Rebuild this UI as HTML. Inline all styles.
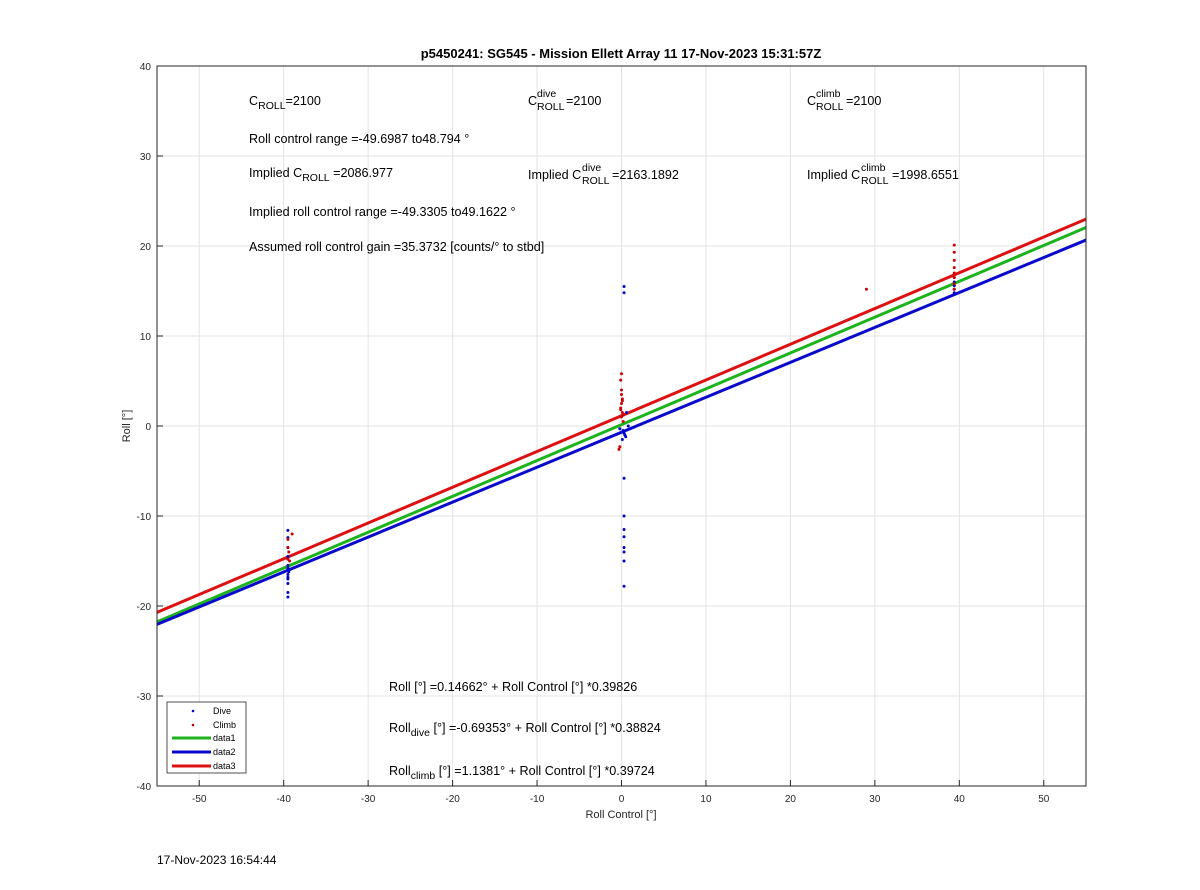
<!DOCTYPE html>
<html><head><meta charset="utf-8"><style>
body{margin:0;background:#fff;font-family:"Liberation Sans",Arial,sans-serif}
svg text{font-family:"Liberation Sans",Arial,sans-serif}
</style></head><body>
<svg id="chart" width="1200" height="885" xmlns="http://www.w3.org/2000/svg">
<rect width="1200" height="885" fill="#fff"/>
<g id="grid"></g>
<g id="marks"></g>
<rect x="157" y="66" width="929" height="720" fill="none" stroke="#262626" stroke-width="1"/>
<g id="ticks" font-size="10" fill="#262626"></g>
<text x="621" y="58" text-anchor="middle" font-size="13" font-weight="bold" fill="#000">p5450241: SG545 - Mission Ellett Array 11 17-Nov-2023 15:31:57Z</text>
<text x="621" y="818" text-anchor="middle" font-size="11" fill="#262626">Roll Control [°]</text>
<text transform="translate(130,426) rotate(-90)" text-anchor="middle" font-size="11" fill="#262626">Roll [°]</text>
<text x="157" y="864" font-size="12" fill="#000">17-Nov-2023 16:54:44</text>
<g font-size="12.6" fill="#000">
<text x="249" y="105">C<tspan font-size="10.5" dy="4">ROLL</tspan><tspan dy="-4">=2100</tspan></text>
<text x="528" y="105">C</text><text x="537" y="97" font-size="10.5">dive</text><text x="537" y="110" font-size="10.5">ROLL</text><text x="566" y="105">=2100</text>
<text x="807" y="105">C</text><text x="816" y="97" font-size="10.5">climb</text><text x="816" y="110" font-size="10.5">ROLL</text><text x="846" y="105">=2100</text>
<text x="249" y="143">Roll control range =-49.6987 to48.794 °</text>
<text x="249" y="177">Implied C<tspan font-size="10.5" dy="4">ROLL</tspan><tspan dy="-4"> =2086.977</tspan></text>
<text x="528" y="179">Implied C</text><text x="582" y="171" font-size="10.5">dive</text><text x="582" y="184" font-size="10.5">ROLL</text><text x="612" y="179">=2163.1892</text>
<text x="807" y="179">Implied C</text><text x="861" y="171" font-size="10.5">climb</text><text x="861" y="184" font-size="10.5">ROLL</text><text x="892" y="179">=1998.6551</text>
<text x="249" y="216">Implied roll control range =-49.3305 to49.1622 °</text>
<text x="249" y="251">Assumed roll control gain =35.3732 [counts/° to stbd]</text>
<text x="389" y="691">Roll [°] =0.14662° + Roll Control [°] *0.39826</text>
<text x="389" y="732">Roll<tspan font-size="10.5" dy="4">dive</tspan><tspan dy="-4"> [°] =-0.69353° + Roll Control [°] *0.38824</tspan></text>
<text x="389" y="775">Roll<tspan font-size="10.5" dy="4">climb</tspan><tspan dy="-4"> [°] =1.1381° + Roll Control [°] *0.39724</tspan></text>
</g>
<g>
<rect x="167" y="702" width="79" height="71" fill="#fff" stroke="#262626" stroke-width="0.8"/>
<circle cx="193" cy="711" r="1.3" fill="#0000cc"/><text x="213" y="714" font-size="9">Dive</text>
<circle cx="193" cy="725" r="1.3" fill="#cc0000"/><text x="213" y="728" font-size="9">Climb</text>
<line x1="172" x2="211" y1="738" y2="738" stroke="#1db31d" stroke-width="3"/><text x="213" y="741" font-size="9">data1</text>
<line x1="172" x2="211" y1="752" y2="752" stroke="#0a0acc" stroke-width="3"/><text x="213" y="755" font-size="9">data2</text>
<line x1="172" x2="211" y1="766" y2="766" stroke="#dd1111" stroke-width="3"/><text x="213" y="769" font-size="9">data3</text>
</g>
</svg>
<script>
const xTicks=[-50,-40,-30,-20,-10,0,10,20,30,40,50];
const yTicks=[-40,-30,-20,-10,0,10,20,30,40];
const diveX=[-39.5,-39.5,-39.5,-39.5,-39.5,-39.5,-39.5,-39.5,-39.5,-39.5,-39.5,-39.4,-39.5,-39.5,0.3,0.3,0.3,0.3,0.3,0.3,0.3,0.3,0.3,0.3,0.2,0.4,0.1,0.5,-0.2,0.8,0.3,0.6,39.4,39.4,39.4,39.4,39.4];
const diveY=[-11.6,-12.4,-13.5,-14.5,-15.5,-16,-16.5,-17,-17.5,-18.5,-19,-16.2,-15.8,-16.8,15.5,14.8,-5.8,-10,-11.5,-12.3,-13.5,-14,-15,-17.8,-0.5,-1,-1.5,-1.2,-0.3,0,-0.8,1.5,14.8,15.2,15.6,16,16.5];
const climbX=[-39,-39.5,-39.5,-39.4,-39.5,-39.3,0,-0.1,0,0.1,0,-0.1,0.1,0,0.2,-0.2,-0.3,0,0.1,-0.1,0.2,29,39.4,39.4,39.4,39.4,39.4,39.4,39.4,39.4];
const climbY=[-12,-12.6,-13.5,-14,-14.8,-15,5.8,5.1,3.5,3,2.5,2,1.5,1,0.5,-2.3,-2.6,4,2.8,1.8,1.2,15.2,20.1,19.3,18.4,17.6,17,16.5,15.8,15.2];
const intercepts=[0.14662,-0.69353,1.1381];
const slopes=[0.39826,0.38824,0.39724];
const lineColors=['#1db31d','#0a0acc','#dd1111'];
const X=v=>621.5+v*(929/110), Y=v=>426-v*9;
const NS='http://www.w3.org/2000/svg';
function mk(t,a,p){const e=document.createElementNS(NS,t);for(const k in a)e.setAttribute(k,a[k]);p.appendChild(e);return e;}
const grid=document.getElementById('grid'),ticks=document.getElementById('ticks'),marks=document.getElementById('marks');
xTicks.forEach(v=>{const g=mk('line',{x1:X(v),x2:X(v),y1:66,y2:786,stroke:'#e3e3e3'},grid);


mk('line',{x1:X(v),x2:X(v),y1:786,y2:780,stroke:'#262626'},ticks);
const t=mk('text',{x:X(v),y:802,'text-anchor':'middle'},ticks);t.textContent=v;

});
yTicks.forEach(v=>{const g=mk('line',{x1:157,x2:1086,y1:Y(v),y2:Y(v),stroke:'#e3e3e3'},grid);


mk('line',{x1:157,x2:163,y1:Y(v),y2:Y(v),stroke:'#262626'},ticks);
const t=mk('text',{x:151,y:Y(v)+4,'text-anchor':'end'},ticks);t.textContent=v;

});
[0,1,2].forEach(i=>{const l=mk('line',{x1:X(-55),x2:X(55),y1:Y(intercepts[i]+slopes[i]*-55),y2:Y(intercepts[i]+slopes[i]*55),stroke:lineColors[i],'stroke-width':3},marks);

});
diveX.forEach((x,i)=>{const c=mk('circle',{cx:X(x),cy:Y(diveY[i]),r:1.5,fill:'#0000cc'},marks);

});
climbX.forEach((x,i)=>{const c=mk('circle',{cx:X(x),cy:Y(climbY[i]),r:1.5,fill:'#cc0000'},marks);

});
</script>
</body></html>
